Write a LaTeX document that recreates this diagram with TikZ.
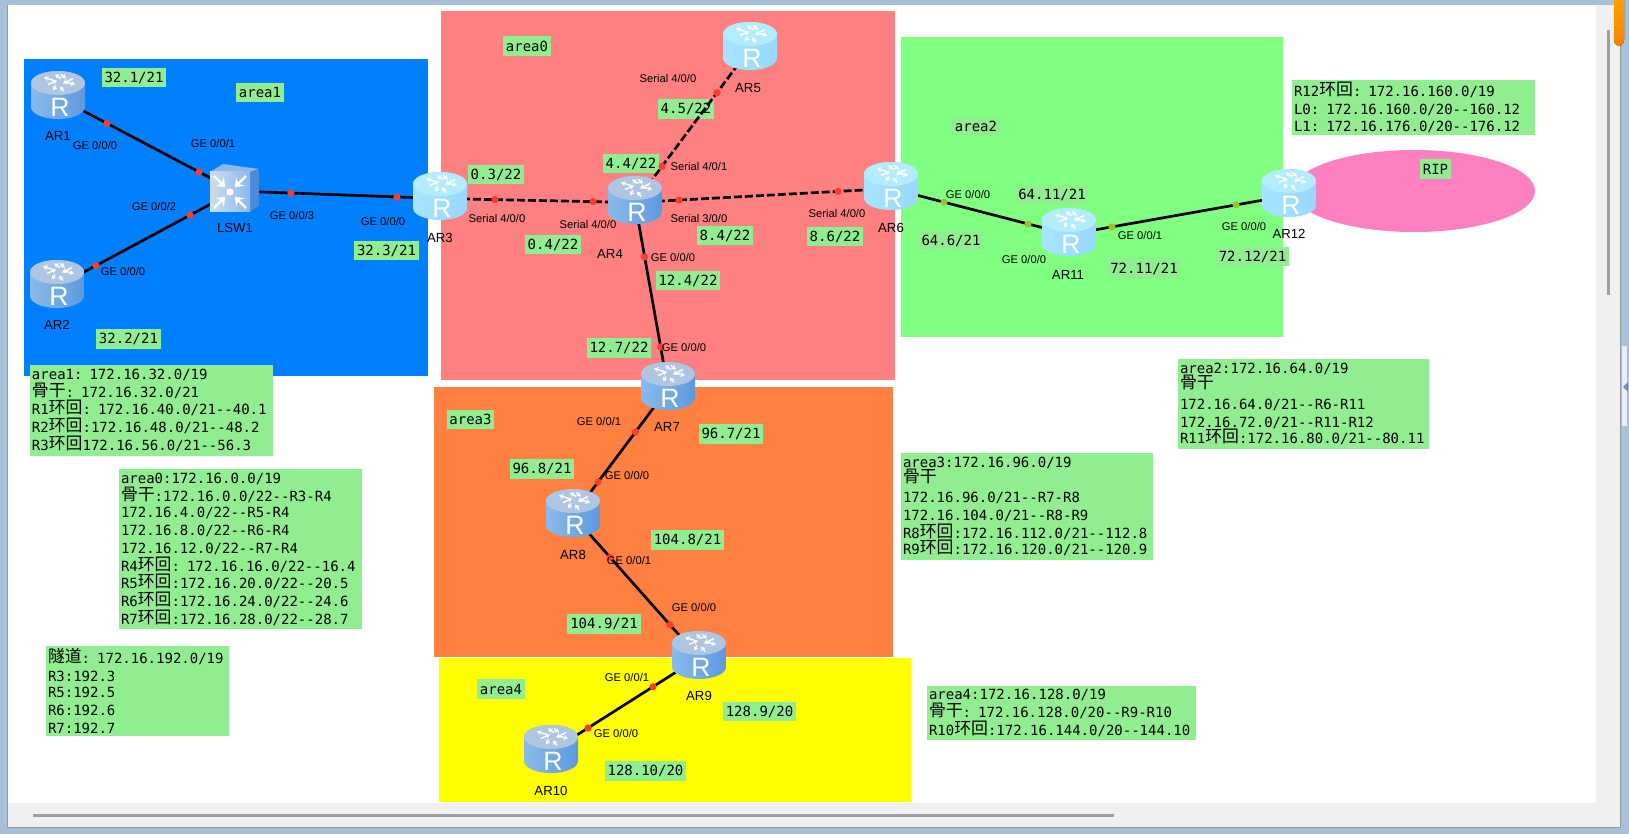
\documentclass[tikz,border=0pt]{standalone}
\usepackage{fontspec}
\setmainfont{Liberation Sans}
\newfontfamily\monof{DejaVu Sans Mono}
\newfontfamily\cjkfont{Noto Sans CJK SC}
\usetikzlibrary{arrows.meta,calc}
\definecolor{framec}{HTML}{A5C0D8}
\definecolor{panelc}{HTML}{F0F0F0}
\definecolor{labc}{HTML}{90EE90}
\definecolor{blueA}{HTML}{0080FF}
\definecolor{redA}{HTML}{FF8080}
\definecolor{greenA}{HTML}{80FF80}
\definecolor{orangeA}{HTML}{FF8040}
\definecolor{yellowA}{HTML}{FFFF00}
\definecolor{pinkA}{HTML}{FF80C0}
\definecolor{dotred}{HTML}{FF3B30}
\definecolor{dotgreen}{HTML}{9DBF2A}
\newcounter{lblc}
\newcommand\cj[1]{{\cjkfont\fontsize{8.43}{9}\selectfont\raisebox{0.5pt}{#1}}}
\newcommand\labfont{\monof\fontsize{7}{9}\selectfont\lineskiplimit-10pt\relax}
\tikzset{
  x=0.5pt,y=-0.5pt,
  link/.style={line width=1.35pt,black},
  serial/.style={link,dash pattern=on 4pt off 1.5pt},
  rdot/.style={circle,fill=dotred,inner sep=0pt,minimum size=3.6pt},
  gdot/.style={circle,fill=dotgreen,inner sep=0pt,minimum size=3.6pt},
  lab/.style={fill=labc,inner sep=0pt,font=\labfont},
  portlab/.style={inner sep=0pt,font=\fontsize{5.6}{6}\selectfont},
  devlab/.style={inner sep=0pt,font=\fontsize{6.6}{7}\selectfont},
  arrowline/.style={line width=0.7pt,white,-{Stealth[length=2.2pt,width=2.6pt]}},
  routerpic/.pic={
    \path[left color=\rL,middle color=\rM,right color=\rR]
      (-27,-14.5) -- (-27,9.5) arc[start angle=180,end angle=360,x radius=13.5pt,y radius=6pt]
      -- (27,-14.5) arc[start angle=0,end angle=180,x radius=13.5pt,y radius=6pt] -- cycle;
    \fill[\rT] (0,-14.5) ellipse[x radius=13.5pt,y radius=6pt];
    \draw[arrowline] (-4,-17) -- (-14,-20);
    \draw[arrowline] (-10,-13) -- (-1,-17);
    \draw[arrowline] (3,-19) -- (-3,-23);
    \draw[arrowline] (3,-23) -- (8,-19);
    \draw[arrowline] (6,-16) -- (17,-13);
    \draw[arrowline] (15,-19) -- (5,-14);
    \draw[arrowline] (-2,-12) -- (-5,-7);
    \draw[arrowline] (6,-6) -- (2,-11);
    \node[white,inner sep=0pt,font=\fontsize{13.3}{14}\selectfont] (-r) at (2,10) {R};
  },
}
\newcommand\routerdark{\def\rL{routerDL}\def\rM{routerDM}\def\rR{routerDR}\def\rT{routerDT}}
\newcommand\routerlight{\def\rL{routerLL}\def\rM{routerLM}\def\rR{routerLR}\def\rT{routerLT}}
\definecolor{routerDL}{HTML}{8ABAEA}
\definecolor{routerDM}{HTML}{4A8AD8}
\definecolor{routerDR}{HTML}{5C9ADE}
\definecolor{routerDT}{HTML}{AFC6E2}
\definecolor{routerLL}{HTML}{A8E4FF}
\definecolor{routerLM}{HTML}{78C4FF}
\definecolor{routerLR}{HTML}{98D8FF}
\definecolor{routerLT}{HTML}{B4ECFF}
% single line green label: x1 y1 x2 y2 text
\newcommand\lbl[5]{\stepcounter{lblc}\pgfmathsetmacro\wv{(#3-#1)*0.5}\pgfmathsetmacro\hv{(#4-#2)*0.5}%
  \node[lab,minimum width=\wv pt,minimum height=\hv pt] (lbl\thelblc) at ({(#1+#3)/2},{(#2+#4)/2}) {#5};}
% multi line green label
\newcommand\mlbl[5]{\stepcounter{lblc}\pgfmathsetmacro\wv{(#3-#1)*0.5}\pgfmathsetmacro\hv{(#4-#2)*0.5}\pgfmathsetmacro\tw{(#3-#1)*0.5-2}%
  \node[lab,minimum width=\wv pt,minimum height=\hv pt,text width=\tw pt,align=left] (lbl\thelblc) at ({(#1+#3)/2},{(#2+#4)/2}) {#5};}
\newcommand\plab[3]{\stepcounter{lblc}\node[portlab] (port\thelblc) at (#1,#2) {#3};}
\newcommand\dlab[3]{\stepcounter{lblc}\node[devlab] (dev\thelblc) at (#1,#2) {#3};}
\begin{document}
\begin{tikzpicture}
\useasboundingbox (0,0) rectangle (1629,834);
% window chrome
\fill[framec] (0,0) rectangle (1629,834);
\fill[panelc] (7,5) rectangle (1620,827);
\draw[gray!80,line width=0.5pt] (7,5) -- (7,827) -- (1620,827) -- (1620,5);
\fill[white] (8,5) rectangle (1596,803);
\fill[gray!75] (33,814) rectangle (1114,817);
\fill[gray!75] (1607,30) rectangle (1610,295);
\fill[top color=orange!70!yellow,bottom color=orange,rounded corners=3pt] (1614,-6) rectangle (1624,46);
\fill[blue!8!white] (1622,346) rectangle (1627,426);
\fill[framec!70!blue] (1623,387) -- (1628,382) -- (1628,392) -- cycle;
% areas
\fill[blueA] (24,59) rectangle (428,376);
\fill[redA] (441,11) rectangle (895,380);
\fill[greenA] (901,37) rectangle (1283,337);
\fill[orangeA] (434,387) rectangle (893,657);
\fill[yellowA] (439,658) rectangle (911,802);
\fill[pinkA] (1414,191) ellipse[x radius=60.5pt,y radius=20.5pt];
% labels
\lbl{102}{68}{166}{87}{32.1/21}
\lbl{236}{83}{284}{102}{area1}
\lbl{96}{329}{161}{349}{32.2/21}
\lbl{354}{241}{419}{260}{32.3/21}
\lbl{503}{36}{551}{56}{area0}
\lbl{658}{99}{714}{119}{4.5/22}
\lbl{603}{154}{659}{173}{4.4/22}
\lbl{468}{165}{524}{184}{0.3/22}
\lbl{525}{235}{581}{254}{0.4/22}
\lbl{697}{226}{753}{245}{8.4/22}
\lbl{807}{227}{863}{246}{8.6/22}
\lbl{656}{271}{720}{290}{12.4/22}
\lbl{587}{338}{651}{358}{12.7/22}
\lbl{447}{410}{494}{429}{area3}
\lbl{699}{424}{763}{444}{96.7/21}
\lbl{510}{459}{574}{479}{96.8/21}
\lbl{651}{530}{724}{550}{104.8/21}
\lbl{567}{614}{641}{634}{104.9/21}
\lbl{477}{679}{525}{699}{area4}
\lbl{723}{702}{796}{721}{128.9/20}
\lbl{605}{761}{686}{781}{128.10/20}
\lbl{952}{117}{1000}{135}{area2}
\lbl{1016}{186}{1088}{204}{64.11/21}
\lbl{919}{231}{983}{250}{64.6/21}
\lbl{1108}{259}{1180}{278}{72.11/21}
\lbl{1216}{247}{1289}{266}{72.12/21}
\lbl{1420}{159}{1451}{179}{RIP}
\mlbl{30}{365}{273}{456}{area1: 172.16.32.0/19\\\cj{骨干}: 172.16.32.0/21\\[-0.5pt]R1\cj{环回}: 172.16.40.0/21--40.1\\R2\cj{环回}:172.16.48.0/21--48.2\\R3\cj{环回}172.16.56.0/21--56.3}
\mlbl{119}{469}{362}{629}{area0:172.16.0.0/19\\\cj{骨干}:172.16.0.0/22--R3-R4\\[-1pt]172.16.4.0/22--R5-R4\\172.16.8.0/22--R6-R4\\172.16.12.0/22--R7-R4\\R4\cj{环回}: 172.16.16.0/22--16.4\\[-0.5pt]R5\cj{环回}:172.16.20.0/22--20.5\\R6\cj{环回}:172.16.24.0/22--24.6\\R7\cj{环回}:172.16.28.0/22--28.7}
\mlbl{46}{646}{229}{736}{\cj{隧道}: 172.16.192.0/19\\R3:192.3\\[-1pt]R5:192.5\\R6:192.6\\R7:192.7}
\mlbl{1178}{359}{1429}{449}{area2:172.16.64.0/19\\[-1pt]\cj{骨干}\\[1pt]172.16.64.0/21--R6-R11\\172.16.72.0/21--R11-R12\\[-1pt]R11\cj{环回}:172.16.80.0/21--80.11}
\mlbl{1292}{80}{1535}{135}{R12\cj{环回}: 172.16.160.0/19\\L0: 172.16.160.0/20--160.12\\[-0.5pt]L1: 172.16.176.0/20--176.12}
\mlbl{901}{453}{1153}{560}{area3:172.16.96.0/19\\[-1pt]\cj{骨干}\\[0.5pt]172.16.96.0/21--R7-R8\\172.16.104.0/21--R8-R9\\R8\cj{环回}:172.16.112.0/21--112.8\\[-1pt]R9\cj{环回}:172.16.120.0/21--120.9}
\mlbl{927}{686}{1196}{740}{area4:172.16.128.0/19\\\cj{骨干}: 172.16.128.0/20--R9-R10\\R10\cj{环回}:172.16.144.0/20--144.10}
% devices (link centres)
\coordinate (ar1) at (58,97.5);
\coordinate (ar2) at (57,286.5);
\coordinate (lsw1) at (235,191);
\coordinate (ar3) at (440,198.5);
\coordinate (ar4) at (635,202.5);
\coordinate (ar5) at (750,48.5);
\coordinate (ar6) at (891,188.5);
\coordinate (ar7) at (668,388.5);
\coordinate (ar8) at (573,515.5);
\coordinate (ar9) at (699,657.5);
\coordinate (ar10) at (551,751.5);
\coordinate (ar11) at (1069,234.5);
\coordinate (ar12) at (1289,195.5);
% links
\draw[link] (ar1) -- node[rdot,pos=.277] (d1a) {} node[rdot,pos=.797] (d1b) {} (lsw1);
\draw[link] (ar2) -- node[rdot,pos=.219] (d2a) {} node[rdot,pos=.747] (d2b) {} (lsw1);
\draw[link] (lsw1) -- node[rdot,pos=.273] (d3a) {} node[rdot,pos=.79] (d3b) {} (ar3);
\draw[serial] (ar3) -- node[rdot,pos=.282] (d4a) {} node[rdot,pos=.785] (d4b) {} (ar4);
\draw[serial] (ar4) -- node[rdot,pos=.172] (d5a) {} node[rdot,pos=.793] (d5b) {} (ar6);
\draw[serial] (ar4) -- node[rdot,pos=.235] (d6a) {} node[rdot,pos=.713] (d6b) {} (ar5);
\draw[link] (ar4) -- node[rdot,pos=.293] (d7a) {} node[rdot,pos=.777] (d7b) {} (ar7);
\draw[link] (ar7) -- node[rdot,pos=.343] (d8a) {} node[rdot,pos=.736] (d8b) {} (ar8);
\draw[link] (ar8) -- node[rdot,pos=.294] (d9a) {} node[rdot,pos=.77] (d9b) {} (ar9);
\draw[link] (ar9) -- node[rdot,pos=.311] (d10a) {} node[rdot,pos=.75] (d10b) {} (ar10);
\draw[link] (ar6) -- node[gdot,pos=.298] (d11a) {} node[gdot,pos=.77] (d11b) {} (ar11);
\draw[link] (ar11) -- node[gdot,pos=.195] (d12a) {} node[gdot,pos=.759] (d12b) {} (ar12);
% router icons
\routerdark
\pic (i1) at (ar1) {routerpic};
\pic (i2) at (ar2) {routerpic};
\pic (i4) at (ar4) {routerpic};
\pic (i7) at (ar7) {routerpic};
\pic (i8) at (ar8) {routerpic};
\pic (i9) at (ar9) {routerpic};
\pic (i10) at (ar10) {routerpic};
\routerlight
\pic (i3) at (ar3) {routerpic};
\pic (i5) at (ar5) {routerpic};
\pic (i6) at (ar6) {routerpic};
\pic (i11) at (ar11) {routerpic};
\pic (i12) at (ar12) {routerpic};
% switch icon
\begin{scope}[shift={(lsw1)}]
  \fill[routerDL] (-25,-19) -- (-12,-27) -- (24,-22) -- (15,-19) -- cycle;
  \fill[routerDM] (15,-19) -- (24,-22) -- (24,15) -- (15,21) -- cycle;
  \path[left color=routerDT!60!white,right color=routerDL] (-25,-19) rectangle (15,21);
  \fill[white] (-5,1) circle[radius=1.8pt];
  \foreach \a/\b in {-21/-15,11/-15,-21/17,11/17}{
    \draw[line width=1.1pt,white,-{Stealth[length=4pt,width=6pt,inset=1.5pt]}] (\a,\b) -- ($(\a,\b)!0.7!(-5,1)$);
  }
\end{scope}
% device labels
\dlab{58}{136}{AR1}
\dlab{57}{325}{AR2}
\dlab{235}{228}{LSW1}
\dlab{440}{238}{AR3}
\dlab{610}{254}{AR4}
\dlab{748}{88}{AR5}
\dlab{891}{228}{AR6}
\dlab{667}{427}{AR7}
\dlab{573}{555}{AR8}
\dlab{699}{696}{AR9}
\dlab{551}{791}{AR10}
\dlab{1068}{275}{AR11}
\dlab{1289}{234}{AR12}
% port labels
\plab{95}{145}{GE 0/0/0}
\plab{213}{143}{GE 0/0/1}
\plab{154}{206}{GE 0/0/2}
\plab{292}{215}{GE 0/0/3}
\plab{383}{221}{GE 0/0/0}
\plab{123}{271}{GE 0/0/0}
\plab{668}{79}{Serial 4/0/0}
\plab{699}{166}{Serial 4/0/1}
\plab{497}{218}{Serial 4/0/0}
\plab{588}{224}{Serial 4/0/0}
\plab{699}{218}{Serial 3/0/0}
\plab{837}{213}{Serial 4/0/0}
\plab{673}{257}{GE 0/0/0}
\plab{684}{347}{GE 0/0/0}
\plab{599}{421}{GE 0/0/1}
\plab{627}{475}{GE 0/0/0}
\plab{629}{560}{GE 0/0/1}
\plab{694}{607}{GE 0/0/0}
\plab{627}{677}{GE 0/0/1}
\plab{616}{733}{GE 0/0/0}
\plab{968}{194}{GE 0/0/0}
\plab{1024}{259}{GE 0/0/0}
\plab{1140}{235}{GE 0/0/1}
\plab{1244}{226}{GE 0/0/0}
\end{tikzpicture}
\end{document}
